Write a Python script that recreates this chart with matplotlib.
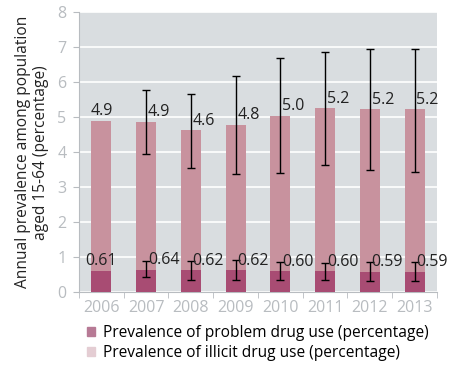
"""Prevalence of illicit and problem drug use, 2006-2013."""
import matplotlib
matplotlib.use("Agg")
import matplotlib.pyplot as plt
from matplotlib.patches import Patch

years = ["2006", "2007", "2008", "2009", "2010", "2011", "2012", "2013"]

illicit = [4.90, 4.87, 4.63, 4.78, 5.05, 5.26, 5.23, 5.23]
illicit_labels = ["4.9", "4.9", "4.6", "4.8", "5.0", "5.2", "5.2", "5.2"]
illicit_low = [None, 3.96, 3.54, 3.39, 3.42, 3.65, 3.48, 3.44]
illicit_high = [None, 5.77, 5.66, 6.18, 6.70, 6.87, 6.95, 6.95]

problem = [0.61, 0.64, 0.62, 0.62, 0.60, 0.60, 0.59, 0.59]
problem_labels = ["0.61", "0.64", "0.62", "0.62", "0.60", "0.60", "0.59", "0.59"]
problem_low = [None, 0.43, 0.36, 0.36, 0.36, 0.36, 0.33, 0.33]
problem_high = [None, 0.88, 0.88, 0.92, 0.86, 0.84, 0.86, 0.86]

LIGHT = "#c8929e"
DARK = "#a84c73"
BG = "#d9dde0"
TICK = "#b8bcc0"
TEXT = "#222222"

plt.rcParams["font.family"] = ["Open Sans", "DejaVu Sans"]

fig = plt.figure(figsize=(4.59, 3.67), dpi=100)
ax = fig.add_axes([0.172, 0.204, 0.780, 0.762])
ax.set_facecolor(BG)

x = list(range(len(years)))
w = 0.45
ax.bar(x, illicit, width=w, color=LIGHT, zorder=2)
ax.bar(x, problem, width=w, color=DARK, zorder=3)

for i in x:
    if illicit_low[i] is not None:
        ax.errorbar(i, illicit[i],
                    yerr=[[illicit[i] - illicit_low[i]], [illicit_high[i] - illicit[i]]],
                    fmt="none", ecolor="black", elinewidth=1, capsize=3, zorder=4)
        ax.errorbar(i, problem[i],
                    yerr=[[problem[i] - problem_low[i]], [problem_high[i] - problem[i]]],
                    fmt="none", ecolor="black", elinewidth=1, capsize=3, zorder=4)
        ax.text(i + 0.04, illicit[i] + 0.05, illicit_labels[i], ha="left", va="bottom",
                fontsize=11.5, color=TEXT, zorder=5)
        ax.text(i + 0.04, problem[i] + 0.04, problem_labels[i], ha="left", va="bottom",
                fontsize=11.5, color=TEXT, zorder=5)
    else:
        ax.text(i, illicit[i] + 0.05, illicit_labels[i], ha="center", va="bottom",
                fontsize=11.5, color=TEXT, zorder=5)
        ax.text(i, problem[i] + 0.04, problem_labels[i], ha="center", va="bottom",
                fontsize=11.5, color=TEXT, zorder=5)

ax.set_xlim(-0.5, 7.5)
ax.set_ylim(0, 8)
ax.set_yticks(range(0, 9))
ax.yaxis.grid(True, color="white", linewidth=1.2, zorder=1)
ax.set_axisbelow(True)

ax.set_xticks(x)
ax.set_xticklabels(years)
ax.set_xticks([i - 0.5 for i in range(len(years) + 1)], minor=True)
ax.tick_params(axis="x", which="major", length=0, labelsize=11.5, labelcolor=TICK, pad=6)
ax.tick_params(axis="x", which="minor", length=4, color=TICK)
ax.tick_params(axis="y", length=4, color=TICK, labelsize=11.5, labelcolor=TICK, pad=5)

for side in ["top", "right"]:
    ax.spines[side].set_visible(False)
for side in ["left", "bottom"]:
    ax.spines[side].set_color(TICK)

ax.set_ylabel("Annual prevalence among population\naged 15-64 (percentage)",
              fontsize=11.2, color=TEXT, labelpad=6)

handles = [Patch(color="#b77a95", label="Prevalence of problem drug use (percentage)"),
           Patch(color="#e4cdd3", label="Prevalence of illicit drug use (percentage)")]
fig.legend(handles=handles, loc="upper left", bbox_to_anchor=(0.172, 0.135),
           frameon=False, fontsize=11.2, handlelength=0.55, handleheight=0.55,
           handletextpad=0.5, labelspacing=0.25, borderpad=0)

fig.savefig("out.png", dpi=100)
